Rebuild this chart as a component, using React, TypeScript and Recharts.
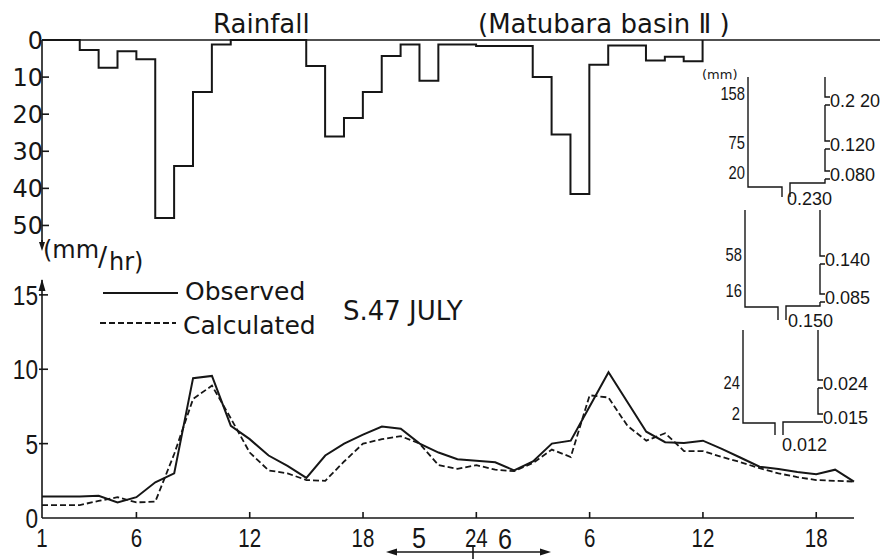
import React from "react";
import { Line, LineChart, ReferenceLine, XAxis, YAxis } from "recharts";

// hourly axis (1 .. 24 of the 5th, then 1 .. 20 of the 6th)
const hours = [1, 2, 3, 4, 5, 6, 7, 8, 9, 10, 11, 12, 13, 14, 15, 16, 17, 18, 19, 20, 21, 22,
  23, 24, 25, 26, 27, 28, 29, 30, 31, 32, 33, 34, 35, 36, 37, 38, 39, 40, 41, 42, 43, 44];

// discharge (mm/hr)
const observed = [1.45, 1.45, 1.45, 1.5, 1.05, 1.4, 2.4, 3.0, 9.4, 9.55, 6.2, 5.3, 4.2, 3.5, 2.7,
  4.2, 5.0, 5.6, 6.15, 6.0, 5.0, 4.4, 3.95, 3.85, 3.75, 3.2, 3.8, 5.0, 5.2, 7.5, 9.8, 7.8, 5.8,
  5.1, 5.05, 5.2, 4.65, 4.05, 3.45, 3.3, 3.1, 2.95, 3.25, 2.45];
const calculated = [0.87, 0.87, 0.87, 1.15, 1.4, 1.05, 1.1, 4.3, 8.0, 8.9, 6.7, 4.4, 3.2, 3.0, 2.55,
  2.5, 3.8, 5.0, 5.3, 5.5, 5.0, 3.55, 3.3, 3.55, 3.25, 3.15, 3.7, 4.6, 4.1, 8.25, 8.1, 6.2, 5.2,
  5.7, 4.5, 4.5, 4.1, 3.75, 3.35, 3.0, 2.75, 2.55, 2.5, 2.45];

// hourly rainfall (mm), value holds from the hour to the next one
const rainHours = [1, 2, 3, 4, 5, 6, 7, 8, 9, 10, 11, 12, 13, 14, 15, 16, 17, 18, 19, 20, 21, 22,
  23, 24, 25, 26, 27, 28, 29, 30, 31, 32, 33, 34, 35, 36];
const rainfall = [0, 0, 2.7, 7.5, 3, 5.2, 48, 34, 14, 1.2, 0, 0, 0, 0, 7, 26, 21, 14, 4.3, 1.2, 11,
  1.2, 1.2, 1.6, 1.6, 1.6, 10, 25.5, 41.5, 6.7, 1.5, 1.5, 5.5, 4.5, 5.7, 0];

const hourTicks = [1, 6, 12, 18, 24, 30, 36, 42];
const hourTickLabels = ["1", "6", "12", "18", "24", "6", "12", "18"];
const rainTicks = [0, 10, 20, 30, 40, 50];
const flowTicks = [0, 5, 10, 15];

// tank model parameters
const tankStorage = [["158", "75", "20"], ["58", "16"], ["24", "2"]];
const tankSideOutlets = [["0.2 20", "0.120", "0.080"], ["0.140", "0.085"], ["0.024", "0.015"]];
const tankBottomOutlets = ["0.230", "0.150", "0.012"];

const flowData = hours.map((h, i) => ({ hour: h, observed: observed[i], calculated: calculated[i] }));
const rainData = rainHours.map((h, i) => ({ hour: h, rain: rainfall[i] }));

const INK = "#161616";
const TEXT_FONT = "'DejaVu Sans', sans-serif";
const PLAIN_FONT = "'Liberation Sans', Arial, sans-serif";

// narrow lettering: a regular face squeezed horizontally
function Narrow(props: { x: number; y: number; size: number; anchor?: string; sx?: number; children: any }) {
  const { x, y, size, anchor, sx, children } = props;
  return (
    <text
      transform={`translate(${x},${y}) scale(${sx ?? 0.84},1)`}
      textAnchor={anchor ?? "start"}
      fontFamily={PLAIN_FONT}
      fontSize={size}
      fill={INK}
    >
      {children}
    </text>
  );
}

const RainYTick = (props: any) => {
  const { x, y, payload } = props;
  return (
    <g>
      {payload.value !== 0 && <line x1={x} x2={x + 7} y1={y} y2={y} stroke={INK} strokeWidth={1.6} />}
      <text x={x + 1} y={y + 9} textAnchor="end" fontFamily={TEXT_FONT} fontSize={24} fill={INK}>
        {payload.value}
      </text>
    </g>
  );
};

const FlowYTick = (props: any) => {
  const { x, y, payload } = props;
  return (
    <g>
      {payload.value !== 0 && <line x1={x - 3} x2={x + 6} y1={y} y2={y} stroke={INK} strokeWidth={1.6} />}
      <Narrow x={x - 4} y={y + 10} size={27} anchor="end">{payload.value}</Narrow>
    </g>
  );
};

const FlowXTick = (props: any) => {
  const { x, y, payload } = props;
  const idx = hourTicks.indexOf(payload.value);
  return (
    <g>
      {payload.value !== 1 && <line x1={x} x2={x} y1={y} y2={y - 6} stroke={INK} strokeWidth={1.6} />}
      <Narrow x={x} y={y + 29} size={25} anchor="middle" sx={0.82}>{hourTickLabels[idx]}</Narrow>
    </g>
  );
};

// layout of the three tanks drawn at the right
const tankLayout = [
  { left: 748, right: 825, top: 77, floorL: 187, floorR: 183, holeL: 782, holeR: 790, holeY: 197,
    storageY: [94, 143, 173], outletY: [101, 145, 175], bottomX: 787, bottomY: 199 },
  { left: 745, right: 820, top: 210, floorL: 307, floorR: 306, holeL: 778, holeR: 786, holeY: 320,
    storageY: [255, 291], outletY: [260, 298], bottomX: 788, bottomY: 321 },
  { left: 743, right: 818, top: 330, floorL: 423, floorR: 422, holeL: 775, holeR: 783, holeY: 435,
    storageY: [383, 414], outletY: [384, 418], bottomX: 782, bottomY: 445 },
];

function Tank(props: { k: number }) {
  const t = tankLayout[props.k];
  const segs: string[] = [];
  let y0 = t.top;
  t.outletY.forEach((oy) => {
    segs.push(`M${t.right},${y0} L${t.right},${oy - 4} L${t.right + 5},${oy - 4}`);
    y0 = oy + 4;
    segs.push(`M${t.right + 5},${y0} L${t.right},${y0}`);
  });
  segs.push(`M${t.right},${y0} L${t.right},${t.floorR} L${t.holeR},${t.floorR} L${t.holeR},${t.holeY}`);
  segs.push(`M${t.left},${t.top} L${t.left},${t.floorL} L${t.holeL},${t.floorL} L${t.holeL},${t.holeY}`);
  return (
    <g>
      <path d={segs.join(" ")} fill="none" stroke={INK} strokeWidth={1.4} />
      {tankStorage[props.k].map((s, i) => (
        <Narrow key={s} x={t.left - 3} y={t.storageY[i] + 6} size={18} anchor="end" sx={0.82}>
          {s}
        </Narrow>
      ))}
      {tankSideOutlets[props.k].map((s, i) => (
        <text key={s} x={t.right + 5} y={t.outletY[i] + 6} fontFamily={PLAIN_FONT} fontSize={18} fill={INK}>
          {s}
        </text>
      ))}
      <text x={t.bottomX} y={t.bottomY + 6} fontFamily={PLAIN_FONT} fontSize={18} fill={INK}>
        {tankBottomOutlets[props.k]}
      </text>
    </g>
  );
}

function Overlay() {
  return (
    <svg width={886} height={559} style={{ position: "absolute", left: 0, top: 0, pointerEvents: "none" }}>
      <text x={213} y={33} fontFamily={TEXT_FONT} fontSize={26} fill={INK}>Rainfall</text>
      <text x={478} y={33} fontFamily={TEXT_FONT} fontSize={26} fill={INK}>(Matubara basin Ⅱ )</text>

      <line x1={42} x2={42} y1={240} y2={248} stroke={INK} strokeWidth={1.6} />
      <path d="M39,242 L45,242 L42,251 Z" fill={INK} />
      <path d="M38.5,291 L45.5,291 L42,279 Z" fill={INK} />

      <text x={43} y={258} fontFamily={TEXT_FONT} fontSize={24} fill={INK}>(mm</text>
      <text x={98} y={266} fontFamily={TEXT_FONT} fontSize={27} fill={INK}>/</text>
      <text x={109} y={270} fontFamily={TEXT_FONT} fontSize={24} fill={INK}>hr)</text>

      <line x1={103} x2={178} y1={293} y2={293} stroke={INK} strokeWidth={2} />
      <text x={185} y={300} fontFamily={TEXT_FONT} fontSize={25} fill={INK}>Observed</text>
      <line x1={100} x2={176} y1={323} y2={323} stroke={INK} strokeWidth={2} strokeDasharray="6 3" />
      <text x={183} y={334} fontFamily={TEXT_FONT} fontSize={25} fill={INK}>Calculated</text>
      <text x={343} y={320} fontFamily={TEXT_FONT} fontSize={26} fill={INK}>S.47 JULY</text>

      <line x1={392} x2={545} y1={552} y2={552} stroke={INK} strokeWidth={1.6} />
      <path d="M386,552 L397,548.5 L397,555.5 Z" fill={INK} />
      <path d="M551,552 L540,548.5 L540,555.5 Z" fill={INK} />
      <line x1={473} x2={473} y1={546} y2={559} stroke={INK} strokeWidth={1.6} />
      <Narrow x={419} y={548} size={30} anchor="middle">5</Narrow>
      <Narrow x={505} y={549} size={30} anchor="middle">6</Narrow>

      <text x={702} y={79} fontFamily={TEXT_FONT} fontSize={13} fill={INK}>(mm)</text>
      <Tank k={0} />
      <Tank k={1} />
      <Tank k={2} />
    </svg>
  );
}

export default function App(): JSX.Element {
  return (
    <div style={{ position: "absolute", left: 0, top: 0, width: 886, height: 559, background: "#fff" }}>
      <div style={{ position: "absolute", left: 0, top: 0 }}>
        <LineChart width={886} height={250} data={rainData} margin={{ top: 40, right: 6, bottom: 6, left: 0 }}>
          <XAxis type="number" dataKey="hour" domain={[1, 45.4]} hide />
          <YAxis
            width={42}
            reversed
            domain={[0, 55]}
            ticks={rainTicks}
            interval={0}
            tickSize={0}
            tickMargin={0}
            tickLine={false}
            axisLine={{ stroke: INK, strokeWidth: 1.6 }}
            tick={(p: any) => <RainYTick {...p} />}
          />
          <ReferenceLine y={0} stroke={INK} strokeWidth={1.6} />
          <Line type="stepAfter" dataKey="rain" stroke={INK} strokeWidth={2} dot={false} isAnimationActive={false} />
        </LineChart>
      </div>
      <div style={{ position: "absolute", left: 0, top: 236 }}>
        <LineChart width={886} height={323} data={flowData} margin={{ top: 44, right: 32, bottom: 0, left: 0 }}>
          <XAxis
            type="number"
            dataKey="hour"
            domain={[1, 44]}
            ticks={hourTicks}
            interval={0}
            height={41}
            tickSize={0}
            tickMargin={0}
            tickLine={false}
            axisLine={{ stroke: INK, strokeWidth: 1.6 }}
            tick={(p: any) => <FlowXTick {...p} />}
          />
          <YAxis
            width={42}
            domain={[0, 16]}
            ticks={flowTicks}
            interval={0}
            tickSize={0}
            tickMargin={0}
            tickLine={false}
            axisLine={{ stroke: INK, strokeWidth: 1.6 }}
            tick={(p: any) => <FlowYTick {...p} />}
          />
          <Line type="linear" dataKey="observed" stroke={INK} strokeWidth={2} dot={false} isAnimationActive={false} />
          <Line
            type="linear"
            dataKey="calculated"
            stroke={INK}
            strokeWidth={1.8}
            strokeDasharray="6 3"
            dot={false}
            isAnimationActive={false}
          />
        </LineChart>
      </div>
      <Overlay />
    </div>
  );
}
